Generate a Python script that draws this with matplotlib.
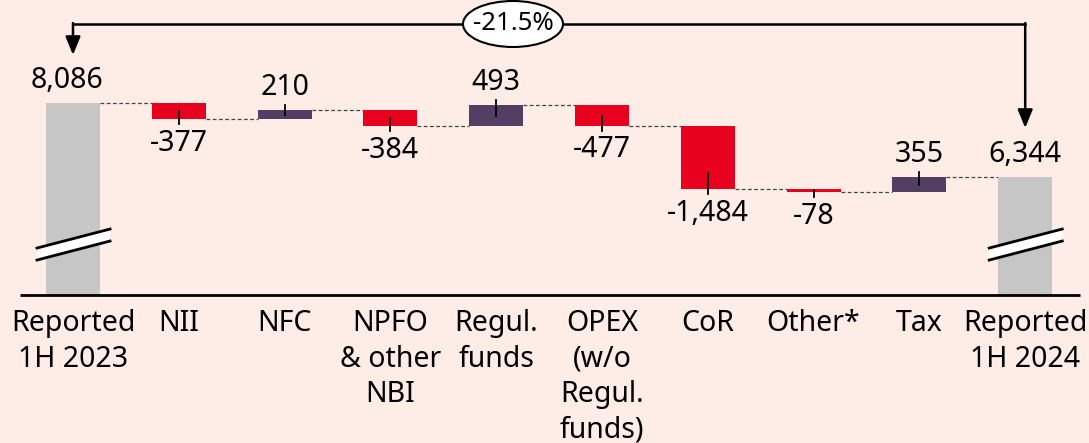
import matplotlib.pyplot as plt
from matplotlib.patches import Ellipse, Polygon

# donnees
categories = ['Reported\n1H 2023', 'NII', 'NFC', 'NPFO\n& other\nNBI', 'Regul.\nfunds',
              'OPEX\n(w/o\nRegul.\nfunds)', 'CoR', 'Other*', 'Tax', 'Reported\n1H 2024']
start = 8086
deltas = [-377, 210, -384, 493, -477, -1484, -78, 355]
end = 6344
labels = ['8,086', '-377', '210', '-384', '493', '-477', '-1,484', '-78', '355', '6,344']
change = '-21.5%'

bg = '#FDEDE6'
grey = '#C6C6C6'
red = '#E8001F'
purple = '#523F63'
fs = 20.5

plt.rcParams['font.family'] = ['Noto Sans', 'DejaVu Sans']

fig = plt.figure(figsize=(10.89, 4.43), dpi=100, facecolor=bg)
ax = fig.add_axes([0, 0.334, 1, 0.666])
ax.set_facecolor(bg)
ymin, ymax = 3566, 10511
ax.set_xlim(-0.69, 9.603)
ax.set_ylim(ymin, ymax)
for s in ax.spines.values():
    s.set_visible(False)
ax.set_yticks([])
w = 0.51
n = len(categories)
ax.set_xticks(range(n), categories, fontsize=fs, linespacing=1.3)
ax.tick_params(axis='x', length=0, pad=10)

# axe horizontal
ax.hlines(ymin, -0.5, 9.52, color='black', lw=2, clip_on=False, zorder=5)

px = (ymax - ymin) / (443 * 0.666)   # unites par pixel

# barres
level = start
ax.bar(0, start, width=w, color=grey, zorder=2)
ax.annotate(labels[0], (0, start), xytext=(-4, 6), textcoords='offset points',
            ha='center', va='bottom', fontsize=fs)
for i, d in enumerate(deltas, start=1):
    new = level + d
    lo, hi = min(level, new), max(level, new)
    ax.bar(i, hi - lo, bottom=lo, width=w, color=red if d < 0 else purple, zorder=2)
    # pointilles
    ax.plot([i - 1 + w / 2, i - w / 2], [level, level], ls=(0, (3, 2)), color='#444444', lw=0.9, zorder=1)
    half = (hi - lo) / 2
    if d < 0:
        y0 = lo + min(half, 16 * px)
        ax.plot([i, i], [y0, lo - 5 * px], color='black', lw=1.3, zorder=3)
        ax.annotate(labels[i], (i, lo), xytext=(0, -7), textcoords='offset points',
                    ha='center', va='top', fontsize=fs)
    else:
        y0 = hi - min(half, 11 * px)
        ax.plot([i, i], [hi + 5 * px, y0], color='black', lw=1.3, zorder=3)
        ax.annotate(labels[i], (i, hi), xytext=(0, 6), textcoords='offset points',
                    ha='center', va='bottom', fontsize=fs)
    level = new
ax.plot([n - 2 + w / 2, n - 1 - w / 2], [level, level], ls=(0, (3, 2)), color='#444444', lw=0.9, zorder=1)
ax.bar(n - 1, end, width=w, color=grey, zorder=2)
ax.annotate(labels[-1], (n - 1, end), xytext=(0, 6), textcoords='offset points',
            ha='center', va='bottom', fontsize=fs)

# coupures sur les barres grises
for xb in [0, n - 1]:
    x1, x2 = xb - 0.34, xb + 0.35
    yb1, yb2 = ymin + 35 * px, ymin + 54 * px
    t = 12 * px
    ax.add_patch(Polygon([(x1, yb1), (x2, yb2), (x2, yb2 + t), (x1, yb1 + t)],
                         closed=True, facecolor='white', edgecolor='none', zorder=4))
    ax.plot([x1, x2], [yb1, yb2], color='black', lw=2, zorder=4)
    ax.plot([x1, x2], [yb1 + t, yb2 + t], color='black', lw=2, zorder=4)

# fleche de variation
ytop = ymax - 24 * px
head = '-|>,head_length=1.1,head_width=0.45'
ax.plot([0, n - 1], [ytop, ytop], color='black', lw=1.8, clip_on=False, zorder=3)
ax.annotate('', xy=(0, ymax - 55 * px), xytext=(0, ytop + 0.9 * px),
            arrowprops=dict(arrowstyle=head, color='black', lw=1.8,
                            shrinkA=0, shrinkB=0), annotation_clip=False)
ax.annotate('', xy=(n - 1, ymax - 128 * px), xytext=(n - 1, ytop + 0.9 * px),
            arrowprops=dict(arrowstyle=head, color='black', lw=1.8,
                            shrinkA=0, shrinkB=0), annotation_clip=False)
xm = (513 - 73) / 105.8
ax.add_patch(Ellipse((xm, ytop), 100 / 105.8, 46 * px, facecolor='white', edgecolor='black',
                     lw=1.5, zorder=4, clip_on=False))
ax.text(xm, ytop, change, ha='center', va='center', fontsize=18.5, zorder=5)

fig.savefig('out.png', dpi=100, facecolor=bg)
